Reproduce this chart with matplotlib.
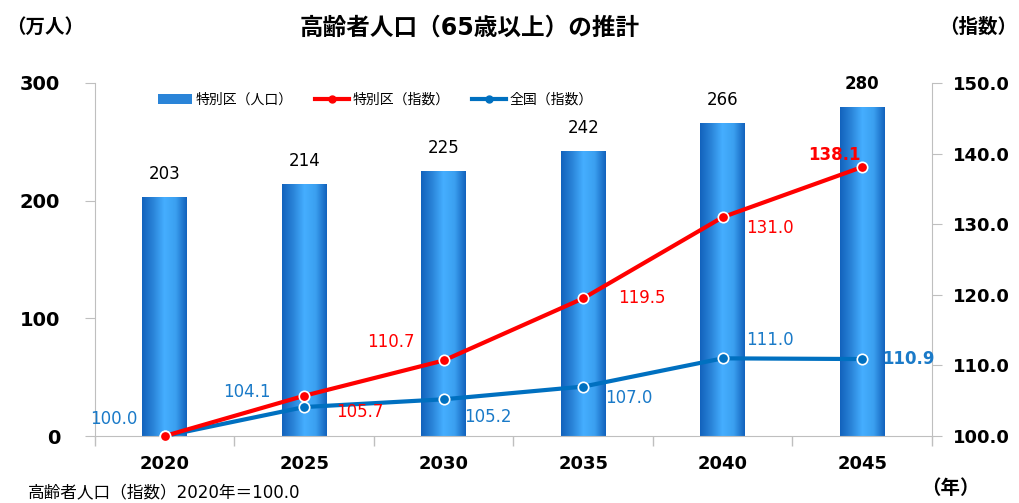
import numpy as np
import matplotlib
matplotlib.use("Agg")
import matplotlib.pyplot as plt
from matplotlib.colors import LinearSegmentedColormap
from matplotlib.lines import Line2D
from matplotlib.patches import Patch

plt.rcParams['font.family'] = ['DejaVu Sans', 'Noto Sans CJK JP']

# データ
years = ['2020', '2025', '2030', '2035', '2040', '2045']
pop = [203, 214, 225, 242, 266, 280]            # 特別区（人口） 万人
idx_ku = [100.0, 105.7, 110.7, 119.5, 131.0, 138.1]  # 特別区（指数）
idx_all = [100.0, 104.1, 105.2, 107.0, 111.0, 110.9]  # 全国（指数）

# ラベル位置 (points) : 特別区, 全国
off_ku = [None, (40, -12), (-38, 13), (42, 0), (34, -8), (-20, 9)]
off_all = [(-37, 12), (-41, 11), (32, -13), (33, -8), (34, 13), (33, 0)]

RED = '#FF0000'
BLUE = '#0070C0'
BLUE_TXT = '#1A7AC8'

fig = plt.figure(figsize=(10.2, 5.03), dpi=100)
ax = fig.add_axes([95 / 1020, 1 - 436 / 503, 837 / 1020, 353 / 503])
x = np.arange(len(years))

# 棒グラフ（グラデーション）
bars = ax.bar(x, pop, width=0.32, color='none', edgecolor='none', zorder=2)
cmap = LinearSegmentedColormap.from_list(
    'bar', ['#1262BC', '#2A84D8', '#45AEFF', '#3BA0F0', '#1262BC'])
grad = np.linspace(0, 1, 256).reshape(1, -1)
for b in bars:
    x0, y0 = b.get_x(), b.get_y()
    im = ax.imshow(grad, cmap=cmap, aspect='auto', zorder=2,
                   extent=(x0, x0 + b.get_width(), y0, y0 + b.get_height()))
    im.set_clip_path(b)
    ax.annotate(str(int(b.get_height())), (x0 + b.get_width() / 2, b.get_height()),
                xytext=(0, 10), textcoords='offset points', ha='center', va='bottom',
                fontsize=12, fontweight='bold' if b is bars[-1] else 'normal')

ax.set_xlim(-0.5, 5.5)
ax.set_ylim(0, 300)
ax.set_yticks([0, 100, 200, 300])
ax.set_xticks(x)
ax.set_xticklabels(years, fontsize=13, fontweight='bold')
ax.set_xticks(np.arange(-0.5, 6, 1), minor=True)
ax.tick_params(axis='x', which='major', length=0, pad=14)
ax.tick_params(axis='x', which='minor', length=7, color='#BFBFBF', width=1)
ax.tick_params(axis='y', length=7, color='#BFBFBF', pad=18, labelsize=14)
for t in ax.get_yticklabels():
    t.set_fontweight('bold')
for s in ['top', 'right']:
    ax.spines[s].set_visible(False)
for s in ['left', 'bottom']:
    ax.spines[s].set_color('#BFBFBF')

# 折れ線（右軸）
ax2 = ax.twinx()
ax2.set_ylim(100, 150)
ax2.set_yticks([100, 110, 120, 130, 140, 150])
ax2.set_yticklabels(['%.1f' % v for v in ax2.get_yticks()])
ax2.tick_params(axis='y', length=7, color='#BFBFBF', pad=8, labelsize=13)
for t in ax2.get_yticklabels():
    t.set_fontweight('bold')
for s in ['top', 'left', 'bottom']:
    ax2.spines[s].set_visible(False)
ax2.spines['right'].set_color('#BFBFBF')

ax2.plot(x, idx_ku, color=RED, lw=3, marker='o', ms=7.5, mfc=RED, mec='white',
         mew=1.2, zorder=4, clip_on=False)
ax2.plot(x, idx_all, color=BLUE, lw=3, marker='o', ms=7.5, mfc=BLUE, mec='white',
         mew=1.2, zorder=3, clip_on=False)

for i, v in enumerate(idx_ku):
    if off_ku[i] is None:
        continue
    ax2.annotate('%.1f' % v, (x[i], v), xytext=off_ku[i], textcoords='offset points',
                 ha='center', va='center', fontsize=12, color=RED,
                 fontweight='bold' if i == len(x) - 1 else 'normal')
for i, v in enumerate(idx_all):
    ax2.annotate('%.1f' % v, (x[i], v), xytext=off_all[i], textcoords='offset points',
                 ha='center', va='center', fontsize=12, color=BLUE_TXT,
                 fontweight='bold' if i == len(x) - 1 else 'normal')

# 凡例
handles = [Patch(facecolor='#2A84D8'),
           Line2D([], [], color=RED, lw=3, marker='o', ms=5),
           Line2D([], [], color=BLUE, lw=3, marker='o', ms=5)]
labels = ['特別区（人口）', '特別区（指数）', '全国（指数）']
fig.legend(handles, labels, loc='center left', bbox_to_anchor=(146 / 1020, 1 - 100 / 503),
           ncol=3, frameon=False, fontsize=10, handlelength=2.4, handleheight=0.7,
           columnspacing=1.6, handletextpad=0.3)

# テキスト
fig.text(470 / 1020, 1 - 28 / 503, '高齢者人口（65歳以上）の推計', ha='center', va='center',
         fontsize=17, fontweight='bold')
fig.text(45 / 1020, 1 - 27 / 503, '（万人）', ha='center', va='center', fontsize=14,
         fontweight='bold')
fig.text(978 / 1020, 1 - 27 / 503, '（指数）', ha='center', va='center', fontsize=14,
         fontweight='bold')
fig.text(950 / 1020, 1 - 489 / 503, '（年）', ha='center', va='center', fontsize=14,
         fontweight='bold')
fig.text(28 / 1020, 1 - 492 / 503, '高齢者人口（指数）2020年＝100.0', ha='left', va='center',
         fontsize=12)

fig.savefig('out.png', dpi=100)
